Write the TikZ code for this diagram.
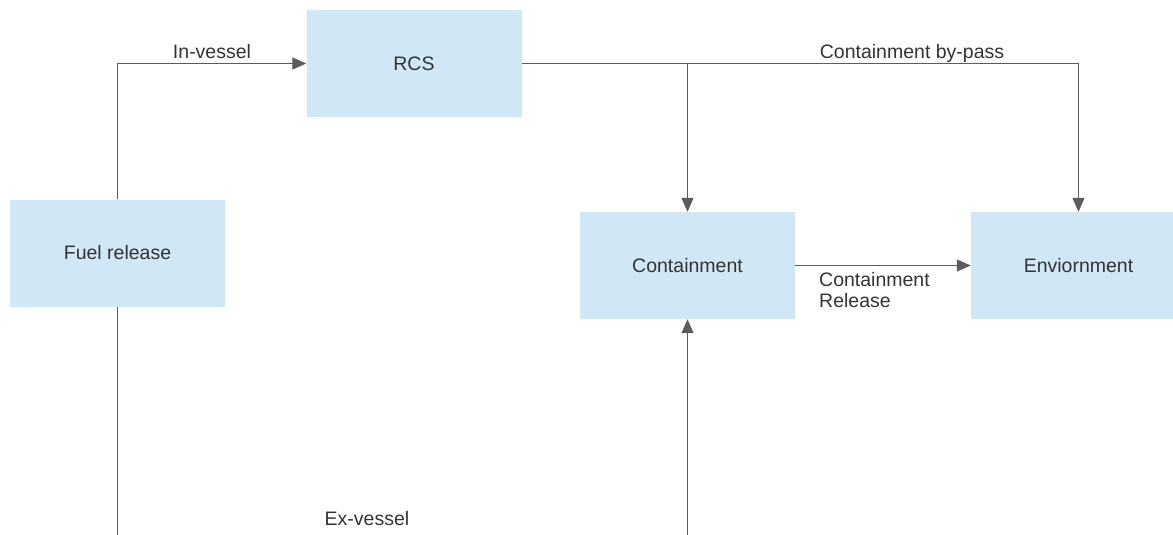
\documentclass[tikz,border=0pt]{standalone}
\usepackage{fontspec}
\setmainfont{Liberation Sans}
\usetikzlibrary{arrows.meta}
\definecolor{boxblue}{HTML}{D0E7F5}
\definecolor{linegray}{HTML}{5C5C5C}
\definecolor{textgray}{HTML}{333333}

\begin{document}
\begin{tikzpicture}[x=1pt, y=-1pt,
    block/.style={rectangle, fill=boxblue, minimum width=215pt, minimum height=107pt, inner sep=0pt, text=textgray, font=\fontsize{19.5}{21}\selectfont},
    flow/.style={draw=linegray, line width=1.2pt, -{Triangle[length=14pt,width=12pt]}},
    tag/.style={text=textgray, inner sep=0pt, font=\fontsize{19.5}{21}\selectfont}]
    \useasboundingbox (0,0) rectangle (1173,535);
    \clip (0,0) rectangle (1173,535);

    % Nodes
    \node [block] (rcs) at (414,63.5) {RCS};
    \node [block] (fuel) at (117.5,253) {Fuel release};
    \node [block] (cont) at (687.5,265.5) {Containment};
    \node [block] (env) at (1078.5,265.5) {Enviornment};
    \coordinate (split) at (rcs.east -| cont.north);
    \coordinate (bottom) at (400,545);

    % Arrows
    \draw [flow] (fuel.north) |- (rcs.west);
    \draw [flow] (rcs.east) -| (env.north);
    \draw [flow] (split) -- (cont.north);
    \draw [flow] (cont.east) -- (env.west);
    \draw [flow] (fuel.south) |- (bottom) -| (cont.south);

    % Labels
    \node [tag, anchor=base] (invessel) at (212,59) {In-vessel};
    \node [tag, anchor=base] (bypass) at (912,59) {Containment by-pass};
    \node [tag, anchor=north west, align=left] (release) at (819,272) {Containment\\Release};
    \node [tag, anchor=base] (exvessel) at (367,525) {Ex-vessel};
\end{tikzpicture}
\end{document}
